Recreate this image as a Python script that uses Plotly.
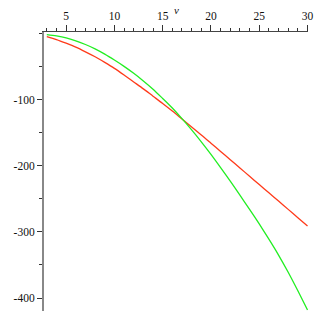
import plotly.graph_objects as go

nu = list(range(3, 31))
green_vals = [-2, -4, -7, -11.5, -17, -23.5, -31.5, -40.5, -50, -60.5, -72, -84.5,
              -98.5, -113, -129, -146, -164, -183, -203, -223.5, -244.5, -266, -288,
              -311, -335, -361, -389, -418]
red_vals = [-5, -9.5, -15, -21, -28, -35.5, -44, -53, -63, -73.5, -84, -95, -106,
            -117.5, -129.5, -141.5, -153.5, -166, -178.5, -191, -203.5, -216, -228.5,
            -241, -253.5, -266, -278.5, -291]
x_ticks = [5, 10, 15, 20, 25, 30]
y_ticks = [-100, -200, -300, -400]
y_ticktext = ["-100", "-200", "-300", "-400"]

fig = go.Figure()
fig.add_trace(go.Scatter(x=nu, y=red_vals, mode="lines",
                         line=dict(color="#ff3a1a", width=1.3, shape="spline", smoothing=0.8),
                         showlegend=False))
fig.add_trace(go.Scatter(x=nu, y=green_vals, mode="lines",
                         line=dict(color="#22ee22", width=1.3, shape="spline", smoothing=0.8),
                         showlegend=False))

font = dict(family="Liberation Serif, Times New Roman, serif", size=11.5, color="#111")

fig.update_layout(
    width=319, height=319,
    margin=dict(l=44, r=11, t=32, b=8),
    paper_bgcolor="white", plot_bgcolor="white",
    font=font,
    xaxis=dict(range=[2.71, 30.05], side="top", tickvals=x_ticks, automargin=False,
               ticks="outside", ticklen=6, tickcolor="#333", tickwidth=1,
               minor=dict(dtick=1, tick0=0, ticks="outside", ticklen=3,
                          tickcolor="#333", showgrid=False),
               showline=True, linecolor="#444", linewidth=1.3,
               showgrid=False, zeroline=False, tickfont=font),
    yaxis=dict(range=[-419.5, 1.9], tickvals=y_ticks, ticktext=y_ticktext, automargin=False,
               ticks="outside", ticklen=5, tickcolor="#333", tickwidth=1,
               minor=dict(dtick=50, tick0=0, ticks="outside", ticklen=3,
                          tickcolor="#333", showgrid=False),
               showline=True, linecolor="#888", linewidth=2,
               showgrid=False, zeroline=False, tickfont=font),
)
fig.add_annotation(x=16.4, xref="x", y=1, yref="paper", yshift=22,
                   text="<i>ν</i>", showarrow=False, yanchor="middle",
                   font=dict(family="Liberation Serif, serif", size=11, color="#111"))

fig.write_html("out.html", config={"displayModeBar": False},
               post_script="document.body.style.margin='0';")
